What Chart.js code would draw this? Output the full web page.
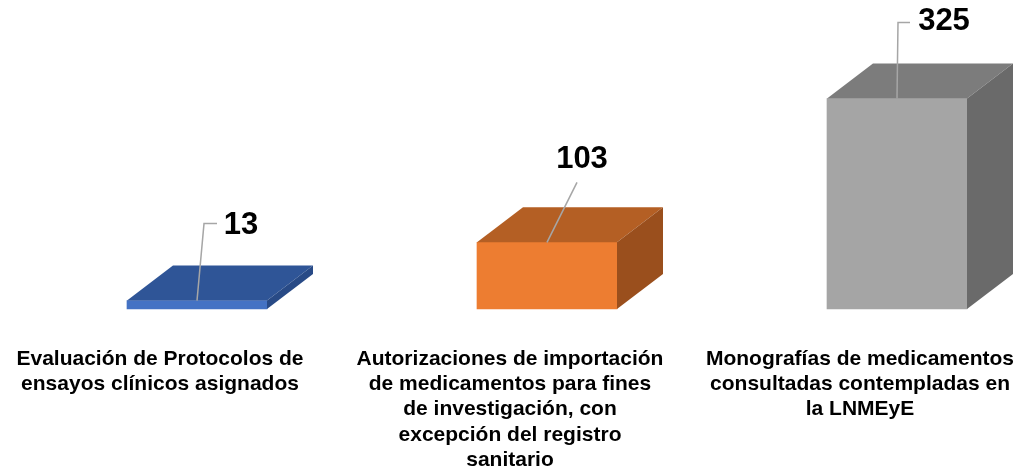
<!DOCTYPE html>
<html>
<head>
<meta charset="utf-8">
<script src="https://cdn.jsdelivr.net/npm/chart.js@4/dist/chart.umd.min.js"></script>
<style>
  html, body { margin: 0; padding: 0; background: #fff; }
  #wrap { width: 1019px; height: 471px; }
</style>
</head>
<body>
<div id="wrap"><canvas id="chart"></canvas></div>
<script>
const categories = [
  ['Evaluación de Protocolos de', 'ensayos clínicos asignados'],
  ['Autorizaciones de importación', 'de medicamentos para fines', 'de investigación, con', 'excepción del registro', 'sanitario'],
  ['Monografías de medicamentos', 'consultadas contempladas en', 'la LNMEyE'],
];
const values = [13, 103, 325];

const frontColors = ['#4472C4', '#ED7D31', '#A5A5A5'];
const topColors = ['#2F5597', '#B45F24', '#7C7C7C'];
const sideColors = ['#284A86', '#9A4F1D', '#6A6A6A'];

// depth of the 3d boxes
const depth = { dx: 46, dy: -35 };

// leader lines and value label placement, relative to the front top centre of each bar
const leaders = [
  [[0, 0], [7, -77], [20, -77]],
  [[0, 0], [30, -60]],
  [[0, 0], [1, -76], [13, -76]],
];
const labelOffsets = [[44, -75], [35, -83], [47, -77]];

const boxes3d = {
  id: 'boxes3d',
  afterDatasetsDraw(chart) {
    const ctx = chart.ctx;
    const meta = chart.getDatasetMeta(0);
    meta.data.forEach((bar, i) => {
      const { x, y, base, width } = bar.getProps(['x', 'y', 'base', 'width'], true);
      const l = x - width / 2, r = x + width / 2;
      ctx.save();
      // top
      ctx.fillStyle = topColors[i];
      ctx.beginPath();
      ctx.moveTo(l, y);
      ctx.lineTo(l + depth.dx, y + depth.dy);
      ctx.lineTo(r + depth.dx, y + depth.dy);
      ctx.lineTo(r, y);
      ctx.closePath();
      ctx.fill();
      // side
      ctx.fillStyle = sideColors[i];
      ctx.beginPath();
      ctx.moveTo(r, y);
      ctx.lineTo(r + depth.dx, y + depth.dy);
      ctx.lineTo(r + depth.dx, base + depth.dy);
      ctx.lineTo(r, base);
      ctx.closePath();
      ctx.fill();

      // leader line
      ctx.strokeStyle = '#A6A6A6';
      ctx.lineWidth = 1.5;
      ctx.beginPath();
      leaders[i].forEach(([px, py], k) => {
        if (k === 0) ctx.moveTo(x + px, y + py);
        else ctx.lineTo(x + px, y + py);
      });
      ctx.stroke();

      // value
      ctx.fillStyle = '#000';
      ctx.font = 'bold 31px "Liberation Sans", Arial, sans-serif';
      ctx.textAlign = 'center';
      ctx.textBaseline = 'middle';
      ctx.fillText(String(values[i]), x + labelOffsets[i][0], y + labelOffsets[i][1]);
      ctx.restore();
    });
  }
};

new Chart(document.getElementById('chart'), {
  type: 'bar',
  data: {
    labels: categories,
    datasets: [{
      data: values,
      backgroundColor: frontColors,
      barThickness: 140,
      borderWidth: 0,
      clip: false,
    }],
  },
  options: {
    responsive: true,
    maintainAspectRatio: false,
    animation: false,
    events: [],
    layout: { padding: { top: 50, bottom: 0, left: 197, right: 122 } },
    plugins: { legend: { display: false }, tooltip: { enabled: false } },
    scales: {
      x: {
        offset: false,
        grid: { display: false, drawTicks: false },
        border: { display: false },
        ticks: {
          color: '#000',
          padding: 37,
          labelOffset: -37,
          maxRotation: 0,
          autoSkip: false,
          font: { family: '"Liberation Sans", Arial, sans-serif', size: 21, weight: 'bold', lineHeight: 1.21 },
        },
        afterFit(scale) {
          scale.height = 162;
          scale.paddingLeft = 0;
          scale.paddingRight = 0;
        },
      },
      y: {
        display: false,
        min: 0,
        max: 400,
      },
    },
  },
  plugins: [boxes3d],
});
</script>
</body>
</html>
